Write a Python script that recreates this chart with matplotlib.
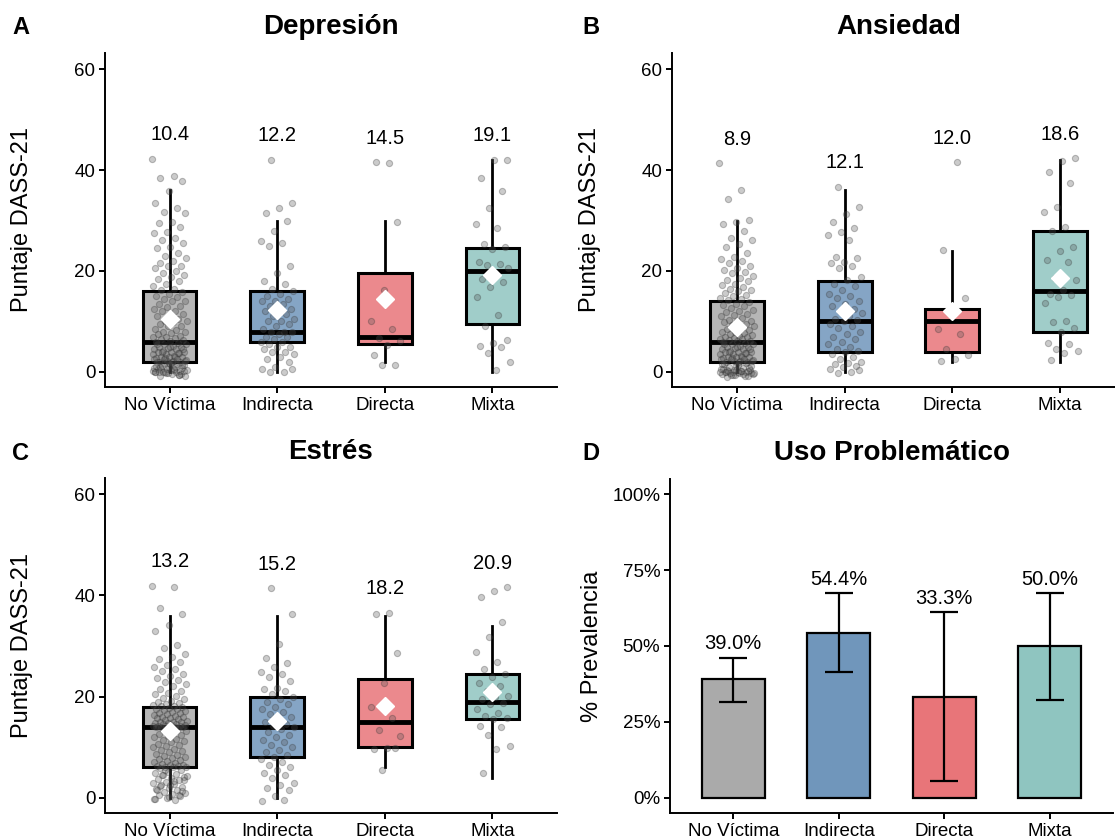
import numpy as np
import matplotlib
matplotlib.use("Agg")
from matplotlib import pyplot as plt
from matplotlib.colors import to_rgba
from matplotlib.transforms import blended_transform_factory

plt.rcParams['font.family'] = ['Liberation Sans', 'DejaVu Sans']

groups = ["No Víctima", "Indirecta", "Directa", "Mixta"]
colors = ["#AAAAAA", "#7096BB", "#E87579", "#8FC5C0"]

# --- Depresión ---
dep_points = [
    [42.2, 38.8, 38.4, 37.9, 35.9, 33.5, 32.4, 31.7, 31.5, 29.8, 29.5, 28.8, 27.8, 27.5, 26.5, 26.1,
     25.5, 24.8, 24.5, 23.5, 23, 22.5, 22, 21.5, 21, 20.9, 20.5, 20, 19.5, 19.2, 18.8, 18.5, 18, 17.5,
     17, 16.5, 16.2,
     15.8, 15.5, 15, 14.8, 14.5, 14, 14, 13.5, 13, 12.8, 12.5, 12, 12, 11.5, 11, 11, 10.5, 10, 10,
     9.8, 9.5, 9, 9, 8.5, 8.2, 8, 8, 7.8, 7.5, 7.2, 7, 7, 6.8, 6.5, 6.3, 6.2, 6,
     5.8, 5.5, 5.5, 5.2, 5, 5, 4.8, 4.5, 4.5, 4.2, 4, 4, 4, 3.8, 3.5, 3.5, 3.2, 3, 3, 3, 2.8, 2.5,
     2.5, 2.2, 2, 2, 2, 2.2, 2.5, 3, 4, 4.5, 5, 5.5, 3.8, 2.8, 2.4, 2.1,
     -0.8, -0.5, -0.3, 0, 0, 0, 0.2, 0.4, 0.5, -0.6, -0.2, 0.1, 0.3, 0.6, 0.8, 1, 1.2, 1.5, 1.8,
     -0.9, -0.4, 0, 0.2, 0.5, 0.7, 0.9, 1.1, 1.3, 1.6, 1.9, -0.7, -0.1, 0.3, 0.6, 0.9, 1.4, 1.7, 0],
    [42, 33.5, 32.5, 31.5, 30, 28, 26, 25.5, 25, 21, 19.5, 18, 17.5, 16.5, 16, 15.5, 15, 14.5, 14,
     14, 13.5, 13, 12.5, 12, 12, 11.5, 11, 10.5, 10, 10, 9.5, 9, 8.5, 8, 8, 8, 7.5, 7, 7, 6.5, 6, 6,
     5.5, 5, 5, 4.5, 4, 4, 3.5, 3, 2.5, 2, 1, 0.5, 0, 0, 0.5],
    [41.3, 41.5, 29.8, 16.2, 10.1, 8.4, 6.7, 6.2, 5.3, 3.4, 1.4, 1.3],
    [42, 42, 38.4, 35.9, 32.5, 29.4, 28.6, 25.3, 24.8, 24.3, 21.8, 21.3, 21.2, 20.5, 19, 18.4, 17.9,
     16.9, 14.9, 11.3, 9, 6.3, 5.8, 5.2, 5, 3.8, 2, 0.3],
]
dep_box = [(0, 2, 6, 16, 36), (0, 6, 8, 16, 30), (2, 5.5, 7, 19.5, 30), (0, 9.5, 20, 24.5, 42)]
dep_mean = [10.4, 12.2, 14.5, 19.1]

# --- Ansiedad ---
ans_points = [
    [41.3, 36, 34.3, 30.1, 29.8, 29.4, 27.9, 26.6, 26.2, 25.3, 24.7, 23.5, 22.8, 22.4, 22, 21.5, 21,
     20.5, 20.2, 19.8, 19.5, 19, 18.6, 18.2, 18, 17.5, 17.2, 16.8, 16.5, 16.2, 16, 15.6, 15.2, 15,
     14.6, 14.4, 14.2,
     13.8, 13.5, 13.2, 13, 12.6, 12.2, 12, 11.8, 11.5, 11.2, 11, 10.6, 10.3, 10, 10, 9.8, 9.5, 9.2, 9,
     8.8, 8.5, 8.2, 8, 8, 7.8, 7.5, 7.4, 7.2, 7, 6.9, 6.8, 6.6, 6.5, 6.4, 6.2, 6.1, 6,
     5.8, 5.5, 5.5, 5.2, 5, 5, 4.8, 4.5, 4.5, 4.2, 4, 4, 4, 3.8, 3.5, 3.5, 3.2, 3, 3, 3, 2.8, 2.5,
     2.5, 2.2, 2, 2, 2, 2.2, 2.5, 3, 4, 4.5, 5, 5.5, 3.8, 2.8, 2.4, 2.1,
     -1, -0.8, -0.6, -0.5, -0.4, -0.3, -0.2, -0.1, 0, 0, 0, 0, 0.1, 0.2, 0.3, 0.4, 0.5, -0.9, -0.7,
     -0.5, -0.3, 0, 0.2, 0.4, 0.6, 0.8, 1, 1.2, 1.4, 1.6, 1.8, -0.6, -0.2, 0.1, 0.3, 0.7, 1.1, 1.5],
    [36.7, 32.7, 31.3, 29.8, 28.6, 27.8, 27.2, 26.1, 22.8, 22.5, 21.8, 21.5, 21, 20.5, 18.9, 18.2,
     17.5, 17, 16.2, 15.5, 15, 14.6, 14, 13.5, 13, 12.4, 12, 11.6, 11, 10.5, 10.2, 10, 9.5, 9, 8.6,
     8, 7.5, 7, 6.5, 6, 5.5, 5, 4.5, 4.2, 4, 3.5, 3, 2.5, 2, 1.8, 1.5, 1.2, 1, 0.6, 0, -0.3, 0.4],
    [41.5, 24.2, 14.7, 12.4, 8.4, 7.5, 4.5, 3.4, 2.5, 2.1],
    [42.3, 41.7, 39.7, 37.4, 32.7, 31.7, 28.8, 28, 24.8, 24, 22.2, 21.7, 18.6, 18.3, 16.2, 15.4,
     15.2, 14.9, 13.6, 10, 9.8, 8.6, 8, 5.7, 5.5, 4.5, 4.2, 3.7, 2.4],
]
ans_box = [(0, 2, 6, 14, 30), (0, 4, 10, 18, 36), (2, 4, 10, 12.5, 24), (2, 8, 16, 28, 42)]
ans_mean = [8.9, 12.1, 12.0, 18.6]

# --- Estrés ---
est_points = [
    [41.9, 41.6, 37.5, 36.4, 34.1, 32.9, 30.2, 29.6, 28.5, 27.9, 27.5, 26.8, 26.2, 25.8, 25.4, 25,
     24.5, 24, 23.6, 23.2, 22.8, 22.4, 22, 21.6, 21.2, 20.8, 20.5, 20.1, 19.8, 19.5, 19.2, 19, 18.8,
     18.6, 18.4, 18.2, 18.1,
     17.9, 17.8, 17.6, 17.5, 17.3, 17.2, 17, 16.8, 16.7, 16.5, 16.4, 16.2, 16, 16, 15.8, 15.7, 15.5,
     15.4, 15.2, 15, 15, 14.9, 14.8, 14.7, 14.6, 14.5, 14.4, 14.3, 14.2, 14.2, 14.1, 14.1, 14, 14,
     14, 14, 14,
     13.8, 13.5, 13.2, 13, 12.7, 12.4, 12.2, 12, 11.7, 11.4, 11.2, 11, 10.7, 10.4, 10.2, 10, 9.7,
     9.4, 9.2, 9, 8.7, 8.4, 8.2, 8, 7.8, 7.6, 7.4, 7.2, 7, 6.8, 6.6, 6.5, 6.4, 6.3, 6.2, 6.1, 6, 6,
     5.8, 5.5, 5.2, 5, 4.8, 4.5, 4.2, 4, 3.8, 3.5, 3.2, 3, 2.8, 2.5, 2.2, 2, 1.8, 1.5, 1.2, 1, 0.8,
     0.5, 0.3, 0, -0.3, -0.5, 4.6, 3.6, 2.6, 1.6, 0.6, 5.4, 4.4, 3.4, 2.4, 1.4, 0.2, -0.2],
    [41.4, 36.3, 30.4, 27.7, 26.7, 25.9, 24.8, 24.5, 23.8, 23, 21.8, 21.5, 21.2, 20.5, 20, 19.5, 19,
     18.6, 18, 17.5, 17, 16.5, 16, 15.5, 15, 14.6, 14.2, 14, 13.6, 13, 12.5, 12, 11.5, 11, 10.5, 10,
     9.5, 9, 8.5, 8, 7.6, 7, 6.5, 6, 5.5, 5, 4.6, 4, 3, 2.5, 2, 1.6, 0.4, -0.6, -0.4],
    [36.6, 36.3, 28.6, 22.6, 17.9, 15.8, 13.5, 12.2, 9.9, 9.6, 9.8, 5.5],
    [41.6, 40.8, 39.6, 34.7, 31.7, 28.9, 26.9, 25.5, 24.5, 23.9, 22.6, 22, 21.2, 20.1, 20, 19.5,
     18.7, 18.5, 17.5, 16.8, 16.2, 15.8, 15.5, 14.2, 14, 12.4, 10.2, 9.7, 5],
]
est_box = [(0, 6, 14, 18, 36), (0, 8, 14, 20, 36), (6, 10, 15, 23.5, 36), (4, 15.5, 19, 24.5, 34)]
est_mean = [13.2, 15.2, 18.2, 20.9]

# --- Uso Problemático ---
prev = [0.390, 0.544, 0.333, 0.500]
prev_lo = [0.317, 0.413, 0.055, 0.323]
prev_hi = [0.462, 0.673, 0.611, 0.674]

W, H = 1115, 840
fig = plt.figure(figsize=(W / 100, H / 100), dpi=100)


def px_axes(left, top, right, bottom):
    return fig.add_axes([left / W, 1 - bottom / H, (right - left) / W, (bottom - top) / H])


def style_axes(ax, label, label_x):
    for s in ["top", "right"]:
        ax.spines[s].set_visible(False)
    for s in ["left", "bottom"]:
        ax.spines[s].set_linewidth(1.4)
    ax.tick_params(axis="both", length=4, width=1.4, labelsize=13.5, colors="black", pad=3)
    ax.set_xlim(0.4, 4.6)
    ax.set_xticks([1, 2, 3, 4])
    ax.set_xticklabels(groups)
    ax.set_ylabel(label, fontsize=17)
    # y label centre at a fixed pixel column, vertically centred on the axes
    tr = blended_transform_factory(fig.transFigure, ax.transAxes)
    ax.yaxis.set_label_coords(label_x / W, 0.5, transform=tr)
    ax.yaxis.label.set_verticalalignment("center")


def box_panel(ax, points, box, means, title, label_x):
    stats = []
    for b in box:
        stats.append(dict(whislo=b[0], q1=b[1], med=b[2], q3=b[3], whishi=b[4], fliers=[]))
    bp = ax.bxp(stats, positions=[1, 2, 3, 4], widths=0.5, patch_artist=True, showcaps=False,
                showfliers=False,
                boxprops=dict(linewidth=2.2, edgecolor="black"),
                whiskerprops=dict(linewidth=2.0, color="black"),
                medianprops=dict(linewidth=3.5, color="black", solid_capstyle="butt"))
    for patch, c in zip(bp["boxes"], colors):
        patch.set_facecolor(to_rgba(c, 0.85))
        patch.set_edgecolor("black")
    for i, pts in enumerate(points):
        n = len(pts)
        off = ((np.arange(n) * 0.618034 + 0.31 * i) % 1 - 0.5) * 0.32
        ax.scatter(i + 1 + off, pts, s=20, color="#555555", alpha=0.3,
                   edgecolors="#333333", linewidths=0.8, zorder=3)
        ax.text(i + 1, max(pts) + 4.8, f"{means[i]:.1f}", ha="center", va="center", fontsize=14.5)
    ax.plot([1, 2, 3, 4], means, linestyle="none", marker="D", ms=9, mfc="white",
            mec="white", zorder=5)
    ax.set_ylim(-3, 63.2)
    ax.set_yticks([0, 20, 40, 60])
    style_axes(ax, "Puntaje DASS-21", label_x)
    ax.set_title(title, fontsize=20, fontweight="bold", pad=14)


axA = px_axes(105, 53, 557, 387)
box_panel(axA, dep_points, dep_box, dep_mean, "Depresión", 22)

axB = px_axes(672, 53, 1125, 387)
box_panel(axB, ans_points, ans_box, ans_mean, "Ansiedad", 590)

axC = px_axes(105, 478, 557, 813)
box_panel(axC, est_points, est_box, est_mean, "Estrés", 22)

axD = px_axes(670, 479, 1113, 813)
x = np.arange(1, 5)
axD.bar(x, prev, width=0.6, color=colors, edgecolor="black", linewidth=1.6, zorder=2)
yerr = [np.array(prev) - np.array(prev_lo), np.array(prev_hi) - np.array(prev)]
axD.errorbar(x, prev, yerr=yerr, fmt="none", ecolor="black", elinewidth=1.6, capsize=10,
             capthick=1.6, zorder=3)
for i in range(4):
    axD.text(x[i], prev_hi[i] + 0.045, f"{prev[i] * 100:.1f}%", ha="center", va="center",
             fontsize=14.5)
axD.set_ylim(-0.05, 1.05)
axD.set_yticks([0, 0.25, 0.5, 0.75, 1.0])
axD.set_yticklabels(["0%", "25%", "50%", "75%", "100%"])
style_axes(axD, "% Prevalencia", 592)
axD.set_title("Uso Problemático", fontsize=20, fontweight="bold", pad=14)

for letter, lx, ly in [("A", 12, 34), ("B", 582, 34), ("C", 12, 460), ("D", 582, 460)]:
    fig.text(lx / W, 1 - ly / H, letter, fontsize=17, fontweight="bold")

fig.savefig("out.png", dpi=100)
